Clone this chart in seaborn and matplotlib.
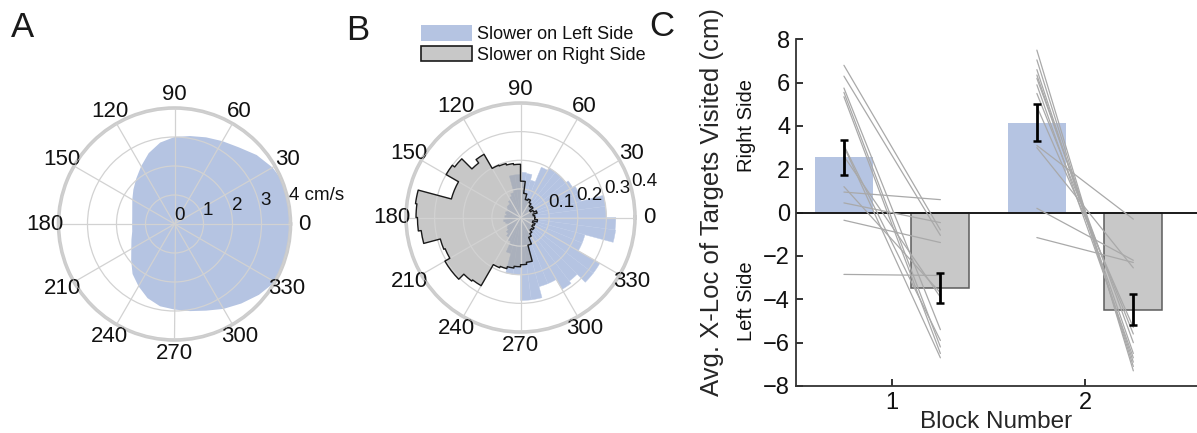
import numpy as np
import pandas as pd
import matplotlib
matplotlib.use("Agg")
import matplotlib.pyplot as plt
from matplotlib.patches import Patch
from matplotlib.transforms import blended_transform_factory
import seaborn as sns

# ---------------- data ----------------
# Panel A: mean movement speed (cm/s) by heading direction (deg)
heading_deg = [0, 10, 20, 30, 40, 50, 60, 70, 80, 90, 100, 110,
               120, 130, 140, 150, 160, 170, 180, 190, 200, 210, 220, 230,
               240, 250, 260, 270, 280, 290, 300, 310, 320, 330, 340, 350]
speed_cm_s = [4.15, 4.10, 4.05, 3.90, 3.70, 3.45, 3.30, 3.18, 3.08, 3.00, 2.85, 2.60,
              2.30, 2.05, 1.85, 1.68, 1.55, 1.48, 1.46, 1.48, 1.58, 1.72, 1.95, 2.25,
              2.48, 2.72, 2.88, 2.95, 3.05, 3.18, 3.38, 3.58, 3.80, 4.00, 4.10, 4.15]

# Panel B: normalized direction histograms, 7.5 deg bins starting at 0 deg
rose_bin_deg = 7.5
slower_left = [0.300, 0.300, 0.220, 0.220, 0.210, 0.200, 0.200, 0.200, 0.190, 0.135, 0.155, 0.158,
               0.150, 0.150, 0.090, 0.080, 0.070, 0.060, 0.060, 0.055, 0.050, 0.055, 0.050, 0.055,
               0.045, 0.060, 0.055, 0.050, 0.055, 0.060, 0.070, 0.080, 0.090, 0.130, 0.200, 0.200,
               0.290, 0.290, 0.250, 0.250, 0.290, 0.280, 0.320, 0.320, 0.233, 0.233, 0.335, 0.333]
slower_right = [0.050, 0.045, 0.060, 0.050, 0.040, 0.055, 0.050, 0.060, 0.070, 0.065, 0.085, 0.127,
                0.186, 0.190, 0.195, 0.198, 0.255, 0.240, 0.290, 0.300, 0.250, 0.250, 0.370, 0.365,
                0.360, 0.350, 0.290, 0.285, 0.305, 0.305, 0.280, 0.275, 0.190, 0.185, 0.178, 0.172,
                0.165, 0.158, 0.100, 0.075, 0.065, 0.055, 0.060, 0.050, 0.055, 0.045, 0.060, 0.050]

# Panel C: group means / SEM of the average x-location of visited targets
group_names = ["Slower on Left Side", "Slower on Right Side"]
blocks = [1, 2]
mean_left_group = [2.55, 4.15]
mean_right_group = [-3.47, -4.47]
sem_left_group = [0.82, 0.85]
sem_right_group = [0.69, 0.73]

# individual participants: (left-group value, right-group value) per block
block1_left = [6.80, 6.30, 5.75, 5.55, 5.35, 3.05, 2.60, 3.10, 1.20, 0.95, 0.45, -0.35, -2.85]
block1_right = [-0.80, -1.05, -5.40, -6.20, -6.50, -6.70, -3.90, -5.90, -3.70, 0.60, -0.46, -1.38, -2.90]
block2_left = [7.50, 7.05, 6.60, 6.35, 6.20, 5.90, 5.50, 4.90, 3.10, 3.00, 0.20, -1.15]
block2_right = [-7.30, -7.10, -6.90, -6.50, -6.00, -6.70, -5.60, -5.30, -0.30, -2.55, -2.20, -2.30]

# ---------------- style ----------------
BLUE = "#b5c4e2"
GRAY = "#a3a3a3"
GRID = "#d2d2d2"
RIM = "#cccccc"

sns.set_theme(style="white")
plt.rcParams["font.family"] = ["Liberation Sans", "DejaVu Sans"]
plt.rcParams["text.color"] = "#111111"

fig = plt.figure(figsize=(11.97, 4.33), dpi=100)
W, H = 1197.0, 433.0


def polar_box(cx, cy, r):
    return [(cx - r) / W, (H - cy - r) / H, 2 * r / W, 2 * r / H]


def style_polar(ax, rmax, rticks, rlabels, rlabel_angle):
    ax.set_ylim(0, rmax)
    ax.set_thetagrids(np.arange(0, 360, 30), labels=[str(a) for a in range(0, 360, 30)])
    ax.set_rticks(rticks)
    ax.set_yticklabels(rlabels)
    ax.set_rlabel_position(rlabel_angle)
    ax.tick_params(axis="x", labelsize=16, pad=-3, colors="#111111")
    ax.tick_params(axis="y", labelsize=13.5, pad=-1.5, colors="#111111")
    ax.grid(True, color=GRID, lw=0.9)
    ax.set_axisbelow(False)
    ax.spines["polar"].set_color(RIM)
    ax.spines["polar"].set_linewidth(2.6)
    ax.set_facecolor("none")


# ---------------- Panel A ----------------
axA = fig.add_axes(polar_box(174.5, 224, 116), projection="polar")
th = np.deg2rad(heading_deg + [heading_deg[0]])
rr = speed_cm_s + [speed_cm_s[0]]
axA.fill(th, rr, color=BLUE, lw=0, zorder=1)
style_polar(axA, 4, [0, 1, 2, 3, 4], ["0", "1", "2", "3", "4 cm/s"], 10)

# ---------------- Panel B ----------------
axB = fig.add_axes(polar_box(520.5, 217.5, 114.5), projection="polar")
bin_starts = np.arange(len(slower_left)) * rose_bin_deg
axB.bar(np.deg2rad(bin_starts), slower_left, width=np.deg2rad(rose_bin_deg), align="edge",
        color=BLUE, edgecolor="#bccae6", linewidth=0.3, zorder=1)

# outlined stair polygon for the second group
poly_t, poly_r = [], []
for start, val in zip(bin_starts, slower_right):
    seg = np.linspace(start, start + rose_bin_deg, 5)
    poly_t.extend(np.deg2rad(seg))
    poly_r.extend([val] * len(seg))
axB.fill(poly_t, poly_r, facecolor=GRAY, alpha=0.6, edgecolor="none", zorder=2)
axB.plot(poly_t + [poly_t[0]], poly_r + [poly_r[0]], color="#1a1a1a", lw=1.0, zorder=3)
style_polar(axB, 0.4, [0.1, 0.2, 0.3, 0.4], ["0.1", "0.2", "0.3", "0.4"], 14)

leg_handles = [Patch(facecolor=BLUE, edgecolor="none", label=group_names[0]),
               Patch(facecolor="#c8c8c8", edgecolor="#1a1a1a", linewidth=1.2, label=group_names[1])]
fig.legend(handles=leg_handles, loc="upper left", bbox_to_anchor=(421 / W, 1 - 25 / H),
           frameon=False, fontsize=13, handlelength=2.85, handleheight=0.95,
           handletextpad=0.25, labelspacing=0.15, borderpad=0, borderaxespad=0)

# ---------------- Panel C ----------------
axC = fig.add_axes([795.7 / W, (H - 386) / H, (W - 795.7) / W, (386 - 39.3) / H])
bars = pd.DataFrame({
    "Block": blocks * 2,
    "Group": [group_names[0]] * 2 + [group_names[1]] * 2,
    "X": mean_left_group + mean_right_group,
})
sns.barplot(data=bars, x="Block", y="X", hue="Group", hue_order=group_names,
            palette=[BLUE, "#c8c8c8"], native_scale=True, width=1.0, gap=0.4,
            errorbar=None, saturation=1, legend=False, ax=axC, zorder=1)
for p in axC.patches:
    if p.get_height() < 0:
        p.set_edgecolor("#5c5c5c")
        p.set_linewidth(1.1)
    else:
        p.set_edgecolor("none")

axC.axhline(0, color="#1a1a1a", lw=1.4, zorder=2)

off = 0.25
for b, s_l, s_r in ((1, block1_left, block1_right), (2, block2_left, block2_right)):
    for a, c in zip(s_l, s_r):
        axC.plot([b - off, b + off], [a, c], color="#a9a9a9", lw=0.9, zorder=3)

axC.errorbar(np.array(blocks) - off, mean_left_group, yerr=sem_left_group, fmt="none",
             ecolor="black", elinewidth=2, capsize=3.2, capthick=1.8, zorder=4)
axC.errorbar(np.array(blocks) + off, mean_right_group, yerr=sem_right_group, fmt="none",
             ecolor="black", elinewidth=2, capsize=3.2, capthick=1.8, zorder=4)

axC.set_xlim(0.5, 2.58)
axC.set_ylim(-8, 8)
axC.set_xticks(blocks)
axC.set_xticklabels([str(b) for b in blocks])
axC.set_yticks(np.arange(-8, 9, 2))
axC.tick_params(direction="in", length=5, width=1.2, labelsize=17, colors="#111111",
                left=True, bottom=True, pad=4)
sns.despine(ax=axC)
for s in ("left", "bottom"):
    axC.spines[s].set_color("#333333")
    axC.spines[s].set_linewidth(1.3)
axC.set_xlabel("Block Number", fontsize=17.5, labelpad=-2)
axC.set_ylabel("Avg. X-Loc of Targets Visited (cm)", fontsize=18.5, va="center")
axC.yaxis.set_label_coords((712 - 795.7) / (W - 795.7), 0.531)
side_tf = blended_transform_factory(axC.transAxes, axC.transData)
side_x = (747 - 795.7) / (W - 795.7)
axC.text(side_x, 4.0, "Right Side", rotation=90, ha="center", va="center",
         fontsize=14.5, transform=side_tf)
axC.text(side_x, -4.1, "Left Side", rotation=90, ha="center", va="center",
         fontsize=14.5, transform=side_tf)

# ---------------- panel letters ----------------
for x, y, s in ((11 / W, 1 - 11 / H, "A"), (346 / W, 1 - 14 / H, "B"), (649 / W, 1 - 10 / H, "C")):
    fig.text(x, y, s, fontsize=25, ha="left", va="top", color="#1a1a1a")

fig.savefig("out.png", dpi=100)
